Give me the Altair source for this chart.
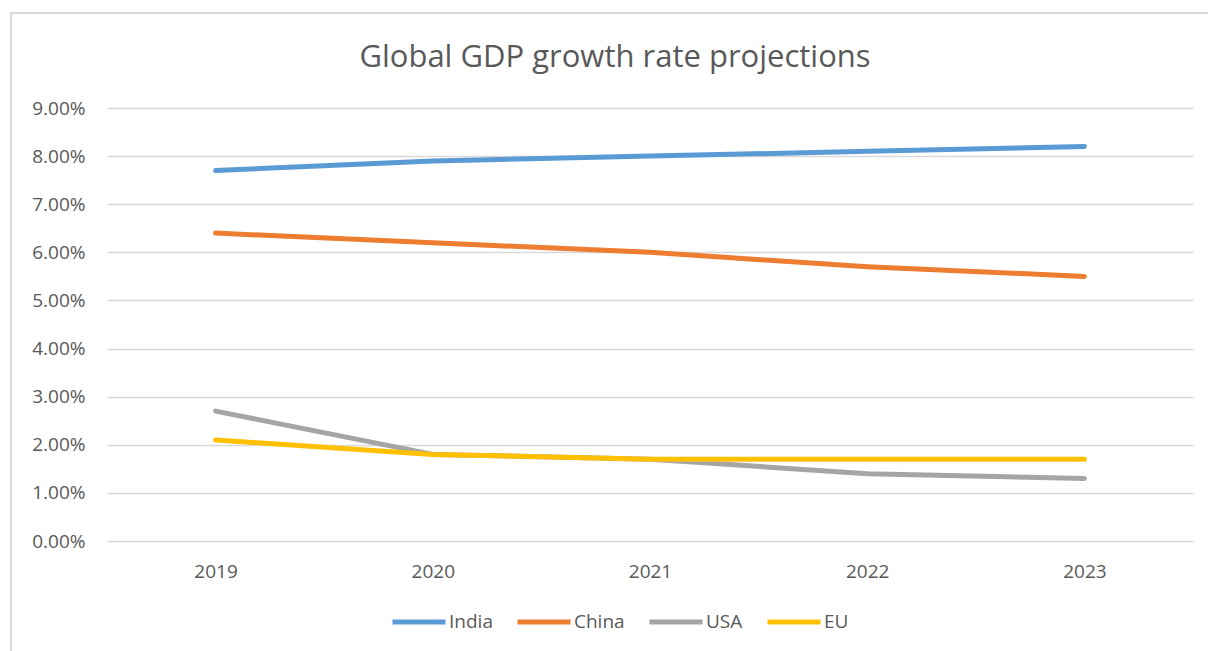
import altair as alt
import pandas as pd

years = ["2019", "2020", "2021", "2022", "2023"]
india = [7.7, 7.9, 8.0, 8.1, 8.2]
china = [6.4, 6.2, 6.0, 5.7, 5.5]
usa = [2.7, 1.8, 1.7, 1.4, 1.3]
eu = [2.1, 1.8, 1.7, 1.7, 1.7]

series = ["India", "China", "USA", "EU"]
colors = ["#5B9BD5", "#ED7D31", "#A5A5A5", "#FFC000"]

rows = []
for name, vals in zip(series, [india, china, usa, eu]):
    for y, v in zip(years, vals):
        rows.append({"Year": y, "Series": name, "Value": v / 100})
df = pd.DataFrame(rows)

FONT = "Open Sans"
GREY = "#595959"

lines = alt.Chart(df).mark_line(strokeWidth=5, strokeCap="round", strokeJoin="round").encode(
    x=alt.X("Year:O", sort=years, scale=alt.Scale(type="point", padding=0.5),
            axis=alt.Axis(title=None, labelAngle=0, ticks=False, domain=False,
                          labelFontSize=19, labelColor=GREY, labelFont=FONT, labelPadding=21)),
    y=alt.Y("Value:Q", scale=alt.Scale(domain=[0, 0.09], nice=False),
            axis=alt.Axis(title=None, format=".2%", values=[i / 100 for i in range(10)],
                          ticks=False, domain=False, grid=True, gridColor="#D9D9D9", gridWidth=1.5,
                          labelFontSize=19, labelColor=GREY, labelFont=FONT, labelPadding=22)),
    color=alt.Color("Series:N", sort=series, scale=alt.Scale(domain=series, range=colors),
                    legend=alt.Legend(title=None, orient="none", direction="horizontal",
                                      legendX=283, legendY=485, symbolType="stroke",
                                      symbolSize=2809, symbolStrokeWidth=5,
                                      labelFontSize=19, labelColor=GREY, labelFont=FONT,
                                      labelOffset=1, columnPadding=14)),
)

frame = alt.Chart(pd.DataFrame({"a": [0]})).mark_rect(
    fill=None, stroke="#D9D9D9", strokeWidth=2, clip=False
).encode(x=alt.value(-96), x2=alt.value(1140), y=alt.value(-95), y2=alt.value(560))

chart = alt.layer(frame, lines).properties(
    width=1086,
    height=433,
    padding={"left": 107, "top": 108, "right": 15, "bottom": 110},
    autosize=alt.AutoSizeParams(type="none"),
    title=alt.TitleParams("Global GDP growth rate projections", fontSize=31, font=FONT,
                          color=GREY, fontWeight="normal", anchor="middle", offset=-62, dx=-35),
).configure_view(stroke=None)

chart.save("out.html", embed_options={"renderer": "svg", "actions": False})
